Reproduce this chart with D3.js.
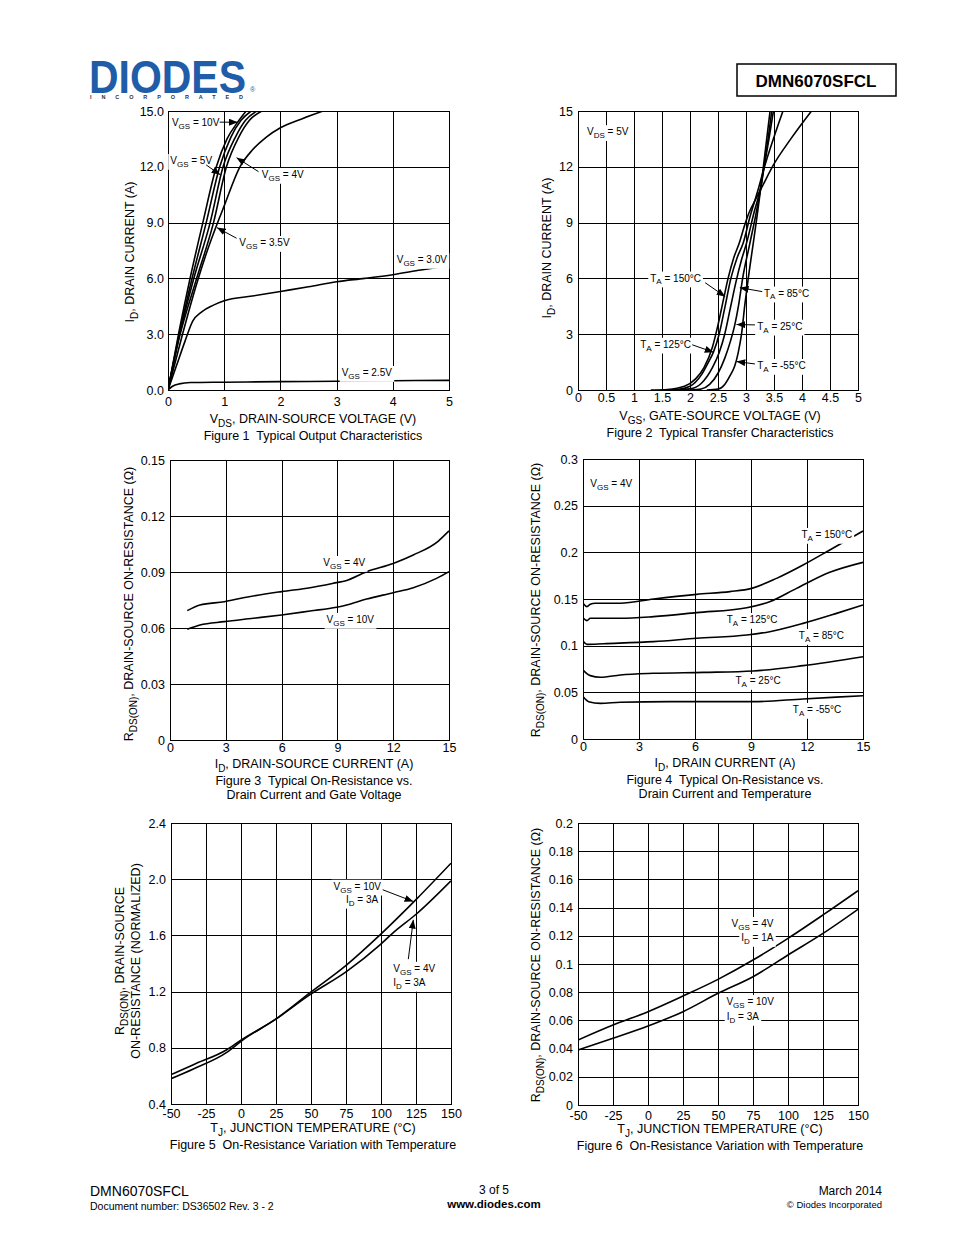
<!DOCTYPE html>
<html>
<head>
<meta charset="utf-8">
<script src="https://cdn.jsdelivr.net/npm/d3@7"></script>
<style>
body { margin: 0; background: #fff; }
svg { display: block; font-family: "Liberation Sans", Arial, sans-serif; }
</style>
</head>
<body>
<script>
// Figure 1: ID vs VDS for each VGS
const f1Vgs10 = [[0,0],[0.2,3.2],[0.4,6.1],[0.62,9],[0.86,12],[1.05,13.5],[1.24,14.4],[1.39,15]]
const f1Vgs5 = [[0,0],[0.2,3.0],[0.42,5.9],[0.68,9],[0.92,12],[1.12,13.6],[1.3,14.5],[1.48,15]]
const f1Vgs4v5 = [[0,0],[0.2,2.9],[0.45,5.9],[0.75,9],[0.98,12],[1.2,13.6],[1.38,14.5],[1.58,15]]
const f1Vgs4 = [[0,0],[0.2,2.8],[0.5,5.9],[0.81,9],[1.04,12],[1.26,13.6],[1.45,14.5],[1.67,15]]
const f1Vgs3v5 = [[0,0],[0.25,2.9],[0.5,5.6],[0.7,7.5],[0.87,8.9],[1.0,9.9],[1.28,12],[1.5,12.9],[1.75,13.6],[2.0,14.1],[2.4,14.6],[2.76,15]]
const f1Vgs3 = [[0,0],[0.15,1.3],[0.3,2.6],[0.44,3.7],[0.6,4.2],[0.8,4.55],[1,4.8],[1.5,5.05],[2,5.3],[2.5,5.55],[3,5.82],[3.5,6.0],[4,6.2],[4.5,6.45],[5,6.68]]
const f1Vgs2v5 = [[0,0],[0.08,0.2],[0.2,0.33],[0.4,0.4],[1,0.42],[2,0.45],[3,0.47],[4,0.5],[5,0.52]]

// Figure 2: ID vs VGS for each TA
const f2T150 = [[1.3,0],[1.6,0.03],[1.9,0.2],[2.1,0.6],[2.25,1.2],[2.4,2.3],[2.5,3.5],[2.6,4.9],[2.68,6.0],[2.78,7.1],[2.88,7.9],[2.97,8.8],[3.05,9.5],[3.18,10.3],[3.3,11.0],[3.49,12.1],[3.8,13.5],[4.17,15]]
const f2T125 = [[1.5,0],[1.8,0.04],[2.0,0.2],[2.2,0.8],[2.33,1.5],[2.42,2.05],[2.52,3.0],[2.62,4.4],[2.73,6.0],[2.84,7.1],[2.95,7.9],[3.07,9.3],[3.2,10.6],[3.33,12.0],[3.5,13.6],[3.66,15]]
const f2T85 = [[1.7,0],[2.0,0.06],[2.2,0.35],[2.4,1.2],[2.52,2.0],[2.62,3.0],[2.72,4.4],[2.82,5.8],[2.92,7.0],[3.01,7.9],[3.14,9.5],[3.27,11.0],[3.33,12.1],[3.41,13.5],[3.49,15]]
const f2T25 = [[2.0,0],[2.2,0.05],[2.35,0.3],[2.5,0.9],[2.62,1.7],[2.72,2.6],[2.8,3.5],[2.87,4.6],[2.94,6.0],[3.07,7.9],[3.18,9.5],[3.27,11.0],[3.32,12.0],[3.39,13.4],[3.46,15]]
const f2Tm55 = [[2.3,0],[2.5,0.05],[2.62,0.3],[2.72,0.8],[2.8,1.3],[2.86,2.0],[2.92,3.0],[2.98,4.6],[3.04,6.0],[3.13,7.9],[3.2,9.4],[3.27,11.0],[3.31,12.0],[3.37,13.5],[3.43,15]]

// Figure 3: RDS(ON) vs ID
const f3Vgs4 = [[0.93,0.0693],[1.61,0.0723],[2.92,0.0741],[3.94,0.0762],[6.0,0.0795],[7.53,0.0816],[8.96,0.0843],[9.41,0.0852],[10.57,0.0902],[12.0,0.0946],[13.08,0.0991],[14.43,0.1066],[15,0.112]]
const f3Vgs10 = [[0.93,0.0593],[1.61,0.0616],[2.92,0.0634],[4.48,0.0652],[6.0,0.067],[7.53,0.0691],[8.96,0.0711],[9.5,0.0723],[10.57,0.0755],[12.0,0.0789],[13.08,0.0816],[14.33,0.0866],[15,0.0902]]

// Figure 4: RDS(ON) vs ID for each TA
const f4T150 = [[0,0.1454],[0.21,0.1418],[0.39,0.1443],[0.66,0.1454],[2.0,0.1454],[3.78,0.15],[6.09,0.155],[7.87,0.1579],[9.03,0.1614],[10.37,0.1721],[11.79,0.1864],[13.22,0.2025],[15,0.2229]]
const f4T125 = [[0,0.13],[0.21,0.1268],[0.39,0.1293],[2.0,0.1293],[3.78,0.1311],[6.09,0.1354],[8.77,0.1407],[10.0,0.1471],[11.44,0.1614],[13.22,0.1786],[15,0.1893]]
const f4T85 = [[0,0.105],[0.21,0.1014],[1.1,0.1021],[3.78,0.1043],[6.09,0.1079],[8.77,0.1114],[10.0,0.115],[11.79,0.1239],[13.58,0.1346],[15,0.1436]]
const f4T25 = [[0,0.0739],[0.39,0.0679],[0.93,0.0661],[2.0,0.0686],[3.78,0.0704],[6.45,0.0714],[9.12,0.0729],[11.79,0.0786],[15,0.0882]]
const f4Tm55 = [[0,0.0454],[0.3,0.04],[0.93,0.0382],[2.0,0.0393],[4.67,0.04],[9.12,0.04],[11.79,0.0429],[15,0.0464]]

// Figure 5: normalized RDS(ON) vs TJ
const f5Vgs10 = [[-50,0.609],[-34,0.68],[-10.2,0.786],[0.5,0.858],[24.3,1.0],[50.5,1.201],[75.5,1.391],[99.3,1.604],[125.5,1.86],[150,2.114]]
const f5Vgs4 = [[-50,0.58],[-34,0.649],[-10.2,0.767],[0.5,0.85],[24.3,1.0],[48,1.17],[75.5,1.344],[99.3,1.533],[108.8,1.62],[125.5,1.754],[150,1.988]]

// Figure 6: RDS(ON) vs TJ
const f6Vgs4 = [[-50,0.0461],[-25,0.0567],[0,0.0662],[25,0.0773],[50,0.0891],[75,0.1028],[100,0.1182],[125,0.1348],[150,0.152]]
const f6Vgs10 = [[-50,0.039],[-25,0.0473],[0,0.056],[25,0.0662],[50,0.0792],[75,0.091],[100,0.1064],[125,0.1217],[150,0.1388]]

// tick labels
const ticksVds = [0, 1, 2, 3, 4, 5]
const ticksVgs = [0, 0.5, 1, 1.5, 2, 2.5, 3, 3.5, 4, 4.5, 5]
const ticksId15 = [0, 3, 6, 9, 12, 15]
const ticksR015 = [0, 0.03, 0.06, 0.09, 0.12, 0.15]
const ticksR03 = [0, 0.05, 0.1, 0.15, 0.2, 0.25, 0.3]
const ticksTemp = [-50, -25, 0, 25, 50, 75, 100, 125, 150]
const ticksNorm = [0.4, 0.8, 1.2, 1.6, 2.0, 2.4]
const ticksR02 = [0, 0.02, 0.04, 0.06, 0.08, 0.1, 0.12, 0.14, 0.16, 0.18, 0.2]

const FS = 12.5

const svg = d3.select("body").append("svg")
    .attr("width", 954)
    .attr("height", 1235)

svg.append("defs").append("marker")
    .attr("id", "arrow")
    .attr("viewBox", "0 0 10 8")
    .attr("refX", 10).attr("refY", 4)
    .attr("markerWidth", 9).attr("markerHeight", 7)
    .attr("markerUnits", "userSpaceOnUse")
    .attr("orient", "auto")
  .append("path").attr("d", "M0,0L10,4L0,8Z").attr("fill", "#000")

// text with subscripts: parts like ["V", ["GS"], " = 4V"]
function rich(text, parts, size) {
  let shifted = false
  parts.forEach(function (p) {
    const sub = Array.isArray(p)
    const t = text.append("tspan").text(sub ? p[0] : p)
    if (sub) {
      t.attr("font-size", size * 0.8).attr("dy", size * 0.28)
      shifted = true
    } else if (shifted) {
      t.attr("dy", -size * 0.28)
      shifted = false
    }
  })
  return text
}

let clipId = 0
function panel(cfg) {
  const x = d3.scaleLinear().domain(cfg.xDomain).range([cfg.left, cfg.right])
  const y = d3.scaleLinear().domain(cfg.yDomain).range([cfg.bottom, cfg.top])
  const g = svg.append("g")
  const w = cfg.right - cfg.left, h = cfg.bottom - cfg.top

  const ax = g.append("g").attr("transform", `translate(0,${cfg.bottom})`)
      .call(d3.axisBottom(x).tickValues(cfg.xTicks).tickSize(-h).tickSizeOuter(0)
        .tickPadding(cfg.xPad).tickFormat(cfg.xFmt || String))
  const ay = g.append("g").attr("transform", `translate(${cfg.left},0)`)
      .call(d3.axisLeft(y).tickValues(cfg.yTicks).tickSize(-w).tickSizeOuter(0)
        .tickPadding(cfg.yPad).tickFormat(cfg.yFmt || String))
  ;[ax, ay].forEach(function (a) {
    a.select(".domain").remove()
    a.attr("font-family", null).attr("font-size", FS)
    a.selectAll("line").attr("stroke", "#000").attr("shape-rendering", "crispEdges")
    a.selectAll("text").attr("fill", "#000")
  })
  g.append("rect").attr("x", cfg.left).attr("y", cfg.top).attr("width", w).attr("height", h)
      .attr("fill", "none").attr("stroke", "#000").attr("shape-rendering", "crispEdges")

  const id = "clip" + (clipId++)
  g.append("clipPath").attr("id", id).append("rect")
      .attr("x", cfg.left).attr("y", cfg.top).attr("width", w).attr("height", h)

  const line = d3.line().x(function (d) { return x(d[0]) }).y(function (d) { return y(d[1]) })
      .curve(d3.curveMonotoneX)
  g.append("g").attr("clip-path", `url(#${id})`)
    .selectAll("path").data(cfg.series).enter().append("path")
      .attr("d", line)
      .attr("fill", "none").attr("stroke", "#000").attr("stroke-width", 1.6)

  const p = {x: x, y: y, g: g}
  ;(cfg.notes || []).forEach(function (n) { note(p, n) })

  // axis title + caption
  rich(g.append("text").attr("x", cfg.titleX).attr("y", cfg.titleY)
      .attr("text-anchor", "middle").attr("font-size", FS), cfg.xTitle, FS)
  cfg.caption.forEach(function (c, i) {
    g.append("text").attr("x", cfg.titleX).attr("y", cfg.capY + i * 14)
        .attr("text-anchor", "middle").attr("font-size", FS).attr("xml:space", "preserve").text(c)
  })
  cfg.yTitle.forEach(function (t, i) {
    rich(g.append("text")
        .attr("transform", `translate(${cfg.yTitleX[i]},${cfg.yTitleY}) rotate(-90)`)
        .attr("text-anchor", "middle").attr("font-size", FS), t, FS)
  })
  return p
}

function note(p, n) {
  const t = p.g.append("text").attr("x", p.x(n.x)).attr("y", p.y(n.y))
      .attr("font-size", 10).attr("text-anchor", n.anchor || "start")
  rich(t, n.parts, 10)
  const b = t.node().getBBox()
  p.g.insert("rect", function () { return t.node() })
      .attr("x", b.x - 2).attr("y", b.y - 1).attr("width", b.width + 4).attr("height", b.height + 2)
      .attr("fill", "#fff")
  if (n.arrow) {
    p.g.append("line")
        .attr("x1", p.x(n.arrow[0])).attr("y1", p.y(n.arrow[1]))
        .attr("x2", p.x(n.arrow[2])).attr("y2", p.y(n.arrow[3]))
        .attr("stroke", "#000").attr("stroke-width", 1).attr("marker-end", "url(#arrow)")
  }
}

// Figure 1
panel({
  left: 168, right: 449, top: 111, bottom: 390,
  xDomain: [0, 5], yDomain: [0, 15], xTicks: ticksVds, yTicks: ticksId15,
  yFmt: d3.format(".1f"), xPad: 7, yPad: 4,
  series: [f1Vgs10, f1Vgs5, f1Vgs4v5, f1Vgs4, f1Vgs3v5, f1Vgs3, f1Vgs2v5],
  notes: [
    {parts: ["V", ["GS"], " = 10V"], x: 0.07, y: 14.2, arrow: [0.92, 14.4, 1.24, 14.4]},
    {parts: ["V", ["GS"], " = 5V"], x: 0.04, y: 12.15, arrow: [0.68, 12.1, 0.93, 11.57]},
    {parts: ["V", ["GS"], " = 4V"], x: 1.67, y: 11.4, arrow: [1.61, 11.74, 1.22, 12.49]},
    {parts: ["V", ["GS"], " = 3.5V"], x: 1.27, y: 7.74, arrow: [1.22, 8.16, 0.87, 8.73]},
    {parts: ["V", ["GS"], " = 3.0V"], x: 4.07, y: 6.83},
    {parts: ["V", ["GS"], " = 2.5V"], x: 3.09, y: 0.75}
  ],
  xTitle: ["V", ["DS"], ", DRAIN-SOURCE VOLTAGE (V)"], titleX: 313, titleY: 423,
  caption: ["Figure 1  Typical Output Characteristics"], capY: 440,
  yTitle: [["I", ["D"], ", DRAIN CURRENT (A)"]], yTitleX: [134], yTitleY: 252
})

// Figure 2
panel({
  left: 578, right: 858, top: 111, bottom: 390,
  xDomain: [0, 5], yDomain: [0, 15], xTicks: ticksVgs, yTicks: ticksId15,
  xPad: 3, yPad: 5,
  series: [f2T150, f2T125, f2T85, f2T25, f2Tm55],
  notes: [
    {parts: ["V", ["DS"], " = 5V"], x: 0.16, y: 13.7},
    {parts: ["T", ["A"], " = 150°C"], x: 1.29, y: 5.83, arrow: [2.27, 5.77, 2.63, 5.02]},
    {parts: ["T", ["A"], " = 85°C"], x: 3.32, y: 5.02, arrow: [3.29, 5.29, 2.89, 5.5]},
    {parts: ["T", ["A"], " = 25°C"], x: 3.2, y: 3.24, arrow: [3.16, 3.5, 2.83, 3.52]},
    {parts: ["T", ["A"], " = 125°C"], x: 1.11, y: 2.27, arrow: [2.04, 2.43, 2.42, 2.03]},
    {parts: ["T", ["A"], " = -55°C"], x: 3.2, y: 1.13, arrow: [3.16, 1.4, 2.83, 1.53]}
  ],
  xTitle: ["V", ["GS"], ", GATE-SOURCE VOLTAGE (V)"], titleX: 720, titleY: 420,
  caption: ["Figure 2  Typical Transfer Characteristics"], capY: 437,
  yTitle: [["I", ["D"], ", DRAIN CURRENT (A)"]], yTitleX: [551], yTitleY: 248
})

// Figure 3
panel({
  left: 170, right: 449, top: 460, bottom: 740,
  xDomain: [0, 15], yDomain: [0, 0.15], xTicks: ticksId15, yTicks: ticksR015,
  xPad: 3, yPad: 5,
  series: [f3Vgs4, f3Vgs10],
  notes: [
    {parts: ["V", ["GS"], " = 4V"], x: 8.24, y: 0.0932},
    {parts: ["V", ["GS"], " = 10V"], x: 8.42, y: 0.0627}
  ],
  xTitle: ["I", ["D"], ", DRAIN-SOURCE CURRENT (A)"], titleX: 314, titleY: 768,
  caption: ["Figure 3  Typical On-Resistance vs.", "Drain Current and Gate Voltage"], capY: 785,
  yTitle: [["R", ["DS(ON)"], ", DRAIN-SOURCE ON-RESISTANCE (Ω)"]], yTitleX: [133], yTitleY: 604
})

// Figure 4
panel({
  left: 583, right: 863, top: 459, bottom: 739,
  xDomain: [0, 15], yDomain: [0, 0.3], xTicks: ticksId15, yTicks: ticksR03,
  xPad: 3, yPad: 5,
  series: [f4T150, f4T125, f4T85, f4T25, f4Tm55],
  notes: [
    {parts: ["V", ["GS"], " = 4V"], x: 0.39, y: 0.27},
    {parts: ["T", ["A"], " = 150°C"], x: 11.7, y: 0.2154},
    {parts: ["T", ["A"], " = 125°C"], x: 7.7, y: 0.1243},
    {parts: ["T", ["A"], " = 85°C"], x: 11.56, y: 0.1071},
    {parts: ["T", ["A"], " = 25°C"], x: 8.17, y: 0.0589},
    {parts: ["T", ["A"], " = -55°C"], x: 11.24, y: 0.0279}
  ],
  xTitle: ["I", ["D"], ", DRAIN CURRENT (A)"], titleX: 725, titleY: 767,
  caption: ["Figure 4  Typical On-Resistance vs.", "Drain Current and Temperature"], capY: 784,
  yTitle: [["R", ["DS(ON)"], ", DRAIN-SOURCE ON-RESISTANCE (Ω)"]], yTitleX: [540], yTitleY: 600
})

// Figure 5
panel({
  left: 171, right: 451, top: 823, bottom: 1104,
  xDomain: [-50, 150], yDomain: [0.4, 2.4], xTicks: ticksTemp, yTicks: ticksNorm,
  yFmt: d3.format(".1f"), xPad: 5, yPad: 5,
  series: [f5Vgs10, f5Vgs4],
  notes: [
    {parts: ["V", ["GS"], " = 10V"], x: 100, y: 1.925, anchor: "end", arrow: [101.2, 1.925, 123.1, 1.841]},
    {parts: ["I", ["D"], " = 3A"], x: 98, y: 1.832, anchor: "end"},
    {parts: ["V", ["GS"], " = 4V"], x: 108.8, y: 1.341, arrow: [119.5, 1.431, 123.1, 1.711]},
    {parts: ["I", ["D"], " = 3A"], x: 108.8, y: 1.241}
  ],
  xTitle: ["T", ["J"], ", JUNCTION TEMPERATURE (°C)"], titleX: 313, titleY: 1132,
  caption: ["Figure 5  On-Resistance Variation with Temperature"], capY: 1149,
  yTitle: [["R", ["DS(ON)"], ", DRAIN-SOURCE"], ["ON-RESISTANCE (NORMALIZED)"]],
  yTitleX: [124, 140], yTitleY: 961
})

// Figure 6
panel({
  left: 578, right: 858, top: 823, bottom: 1105,
  xDomain: [-50, 150], yDomain: [0, 0.2], xTicks: ticksTemp, yTicks: ticksR02,
  xPad: 6, yPad: 5,
  series: [f6Vgs4, f6Vgs10],
  notes: [
    {parts: ["V", ["GS"], " = 4V"], x: 89.6, y: 0.1262, anchor: "end"},
    {parts: ["I", ["D"], " = 1A"], x: 89.6, y: 0.1163, anchor: "end"},
    {parts: ["V", ["GS"], " = 10V"], x: 56, y: 0.0709},
    {parts: ["I", ["D"], " = 3A"], x: 56.2, y: 0.0603}
  ],
  xTitle: ["T", ["J"], ", JUNCTION TEMPERATURE (°C)"], titleX: 720, titleY: 1133,
  caption: ["Figure 6  On-Resistance Variation with Temperature"], capY: 1150,
  yTitle: [["R", ["DS(ON)"], ", DRAIN-SOURCE ON-RESISTANCE (Ω)"]], yTitleX: [540], yTitleY: 965
})

// header
svg.append("text").attr("x", 89).attr("y", 93)
    .attr("font-size", 46).attr("font-weight", "bold").attr("fill", "#1f5da9")
    .attr("textLength", 157).attr("lengthAdjust", "spacingAndGlyphs")
    .text("DIODES")
svg.append("text").attr("x", 90).attr("y", 98.5)
    .attr("font-size", 5.5).attr("font-weight", "bold").attr("fill", "#333")
    .attr("textLength", 153).attr("lengthAdjust", "spacing")
    .text("INCORPORATED")
svg.append("text").attr("x", 250).attr("y", 92)
    .attr("font-size", 7).attr("fill", "#1f5da9").text("®")

svg.append("rect").attr("x", 737).attr("y", 64).attr("width", 159).attr("height", 32)
    .attr("fill", "none").attr("stroke", "#000").attr("stroke-width", 1.5)
svg.append("text").attr("x", 816).attr("y", 87).attr("text-anchor", "middle")
    .attr("font-size", 17).attr("font-weight", "bold").text("DMN6070SFCL")

// footer
svg.append("text").attr("x", 90).attr("y", 1196).attr("font-size", 14).text("DMN6070SFCL")
svg.append("text").attr("x", 90).attr("y", 1210).attr("font-size", 10.5).text("Document number: DS36502 Rev. 3 - 2")
svg.append("text").attr("x", 494).attr("y", 1194).attr("text-anchor", "middle").attr("font-size", 12).text("3 of 5")
svg.append("text").attr("x", 494).attr("y", 1208).attr("text-anchor", "middle").attr("font-size", 11.5)
    .attr("font-weight", "bold").text("www.diodes.com")
svg.append("text").attr("x", 882).attr("y", 1195).attr("text-anchor", "end").attr("font-size", 12).text("March 2014")
svg.append("text").attr("x", 882).attr("y", 1208).attr("text-anchor", "end").attr("font-size", 9.5).text("© Diodes Incorporated")
</script>
</body>
</html>
